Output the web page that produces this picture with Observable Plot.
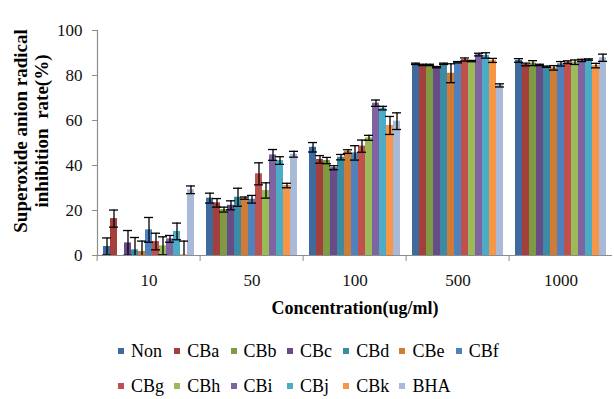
<!DOCTYPE html>
<html>
<head>
<meta charset="utf-8">
<script src="https://cdn.jsdelivr.net/npm/d3@7"></script>
<script src="https://cdn.jsdelivr.net/npm/@observablehq/plot@0.6"></script>
<style>
  body { margin: 0; background: #fff; }
  #wrap { position: relative; width: 614px; height: 399px; font-family: "Liberation Serif", "Times New Roman", Times, "DejaVu Serif", serif; color: #000; overflow: hidden; }
  #chart { position: absolute; left: 0; top: 0; }
  #chart svg text { font-family: "Liberation Serif", "Times New Roman", Times, "DejaVu Serif", serif; }
  #ytitle { position: absolute; left: 31px; top: 131px; transform: translate(-50%, -50%) rotate(-90deg); font-weight: bold; font-size: 19px; line-height: 21px; text-align: center; white-space: nowrap; }
  #xtitle { position: absolute; left: 355px; top: 299px; transform: translateX(-50%); font-weight: bold; font-size: 18px; line-height: 18px; white-space: nowrap; }
  .lrow { position: absolute; left: 118px; height: 20px; display: flex; }
  .litem { width: 56.3px; display: flex; align-items: center; font-size: 18px; line-height: 20px; white-space: nowrap; }
  .sw { display: inline-block; width: 6px; height: 6px; margin-right: 7px; flex: none; }
</style>
</head>
<body>
<div id="wrap">
  <div id="chart"></div>
  <div id="ytitle">Superoxide anion radical<br>inhibition&nbsp; rate(%)</div>
  <div id="xtitle">Concentration(ug/ml)</div>
  <div class="lrow" id="lrow1" style="top:341px"></div>
  <div class="lrow" id="lrow2" style="top:376px"></div>
</div>
<script>
const concentrations = ["10", "50", "100", "500", "1000"];
const series = ["Non", "CBa", "CBb", "CBc", "CBd", "CBe", "CBf", "CBg", "CBh", "CBi", "CBj", "CBk", "BHA"];
const colors = ["#3F6A9E", "#A43F3C", "#7E9A42", "#674C88", "#3A8BA3", "#D07C36", "#4F81BD", "#C0504D", "#9BBB59", "#8064A2", "#4BACC6", "#F79646", "#A9BAD9"];

const means10   = [4.0, 16.4, 0.0, 5.6, 2.5, 1.8, 11.4, 6.2, 4.3, 7.4, 10.7, 0.3, 29.2];
const errs10    = [3.8, 3.8, 0.0, 5.5, 5.5, 4.6, 5.5, 3.7, 4.0, 1.5, 3.7, 6.1, 1.7];
const means50   = [25.5, 23.4, 20.4, 22.3, 25.9, 25.5, 25.0, 36.3, 28.9, 44.7, 42.2, 31.1, 45.0];
const errs50    = [2.2, 1.9, 1.1, 2.0, 4.0, 0.5, 1.7, 4.9, 3.4, 2.4, 1.7, 1.0, 1.3];
const means100  = [48.1, 42.7, 42.2, 39.0, 43.7, 46.2, 45.6, 48.6, 52.3, 67.7, 65.5, 57.8, 59.7];
const errs100   = [2.1, 1.7, 1.4, 0.9, 1.2, 0.8, 3.2, 2.7, 1.1, 1.4, 0.8, 4.0, 3.7];
const means500  = [85.2, 84.7, 84.7, 83.7, 85.2, 81.0, 85.9, 87.1, 86.4, 89.3, 88.9, 86.7, 75.6];
const errs500   = [0.3, 0.3, 0.3, 0.3, 0.3, 4.2, 0.3, 0.7, 0.3, 0.6, 1.2, 0.9, 0.7];
const means1000 = [86.7, 84.9, 85.5, 84.7, 83.9, 83.4, 85.2, 85.9, 85.9, 86.7, 87.1, 84.4, 87.9];
const errs1000  = [0.8, 0.6, 1.1, 0.3, 0.3, 1.0, 1.0, 0.6, 1.0, 0.5, 0.3, 1.0, 1.6];
const yTicks = [0, 20, 40, 60, 80, 100];

const meansAll = [means10, means50, means100, means500, means1000];
const errsAll = [errs10, errs50, errs100, errs500, errs1000];
const rows = [];
concentrations.forEach((c, i) => series.forEach((s, j) => rows.push({conc: c, series: s, v: meansAll[i][j], e: errsAll[i][j]})));
const errRows = rows.filter(d => d.e > 0);

const W = 614, ML = 95, MR = 0;
const step = (W - ML - MR) / concentrations.length;
const serif = "'Liberation Serif', 'Times New Roman', Times, 'DejaVu Serif', serif";

const chart = Plot.plot({
  width: W, height: 290,
  marginLeft: ML, marginRight: MR, marginTop: 30, marginBottom: 35,
  style: {fontFamily: serif, fontSize: "17px", color: "#111", background: "#fff", overflow: "visible"},
  fx: {domain: concentrations, padding: 0, label: null},
  x: {domain: series, paddingInner: 0, paddingOuter: 0.76, axis: null},
  y: {domain: [0, 100], label: null},
  color: {domain: series, range: colors},
  marks: [
    Plot.barY(rows, {fx: "conc", x: "series", y: "v", fill: "series"}),
    Plot.ruleX(errRows, {fx: "conc", x: "series", y1: d => Math.max(0, d.v - d.e), y2: d => d.v + d.e, stroke: "#000", strokeWidth: 1.3}),
    Plot.tickY(errRows, {fx: "conc", x: "series", y: d => d.v + d.e, stroke: "#000", strokeWidth: 1.3, insetLeft: -1, insetRight: -1}),
    Plot.tickY(errRows.filter(d => d.v - d.e > 0), {fx: "conc", x: "series", y: d => d.v - d.e, stroke: "#000", strokeWidth: 1.3, insetLeft: -1, insetRight: -1}),
    Plot.ruleY([0], {stroke: "#8c8c8c", strokeWidth: 1.2}),
    Plot.frame({anchor: "left", facetAnchor: "left", stroke: "#8c8c8c", strokeWidth: 1.2}),
    Plot.axisY({ticks: yTicks, tickSize: 5, tickPadding: 10, stroke: "#8c8c8c", label: null, fontFamily: serif}),
    Plot.axisFx({anchor: "bottom", tickSize: 0, tickPadding: 18, label: null, fontFamily: serif}),
    Plot.axisFx({anchor: "bottom", tickSize: 6, tickFormat: () => "", dx: -step / 2, stroke: "#8c8c8c", label: null})
  ]
});
document.getElementById("chart").appendChild(chart);

// legend
const perRow = 7;
series.forEach((s, i) => {
  const row = document.getElementById(i < perRow ? "lrow1" : "lrow2");
  const item = document.createElement("div");
  item.className = "litem";
  const sw = document.createElement("span");
  sw.className = "sw";
  sw.style.background = colors[i];
  item.appendChild(sw);
  item.appendChild(document.createTextNode(s));
  row.appendChild(item);
});
</script>
</body>
</html>
